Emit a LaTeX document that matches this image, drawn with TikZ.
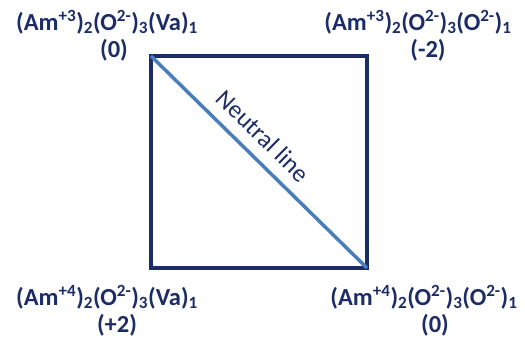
\documentclass[tikz,border=0pt]{standalone}
\usepackage{fontspec}
\setmainfont{Carlito}
\definecolor{navy}{HTML}{1C2C66}
\definecolor{lblue}{HTML}{4A7EBB}
\newcommand{\myup}[1]{\textsuperscript{#1}}
\newcommand{\mydn}[1]{\textsubscript{#1}}
\begin{document}
\begin{tikzpicture}[x=1pt,y=-1pt,
  lab/.style={text=navy,font=\bfseries\fontsize{24.5}{29}\selectfont,inner sep=0pt}]
\useasboundingbox (0,0) rectangle (525,343);
\coordinate (tl) at (151,56);
\coordinate (br) at (367,268);
\draw[navy,line width=4.5pt] (tl) rectangle (br);
\draw[lblue,line width=3.5pt] (tl) -- (br) node[pos=0.45,sloped,above=11pt,inner sep=0pt,text=navy,font=\fontsize{25}{28}\selectfont]{Neutral line};
\node[lab] (a1) at (107,22) {(Am\myup{+3})\mydn{2}(O\myup{2-})\mydn{3}(Va)\mydn{1}};
\node[lab] (a2) at (114,50) {(0)};
\node[lab] (b1) at (418,22) {(Am\myup{+3})\mydn{2}(O\myup{2-})\mydn{3}(O\myup{2-})\mydn{1}};
\node[lab] (b2) at (428,50) {(-2)};
\node[lab] (c1) at (107,297) {(Am\myup{+4})\mydn{2}(O\myup{2-})\mydn{3}(Va)\mydn{1}};
\node[lab] (c2) at (117,325) {(+2)};
\node[lab] (d1) at (424,297) {(Am\myup{+4})\mydn{2}(O\myup{2-})\mydn{3}(O\myup{2-})\mydn{1}};
\node[lab] (d2) at (435,325) {(0)};
\end{tikzpicture}
\end{document}
